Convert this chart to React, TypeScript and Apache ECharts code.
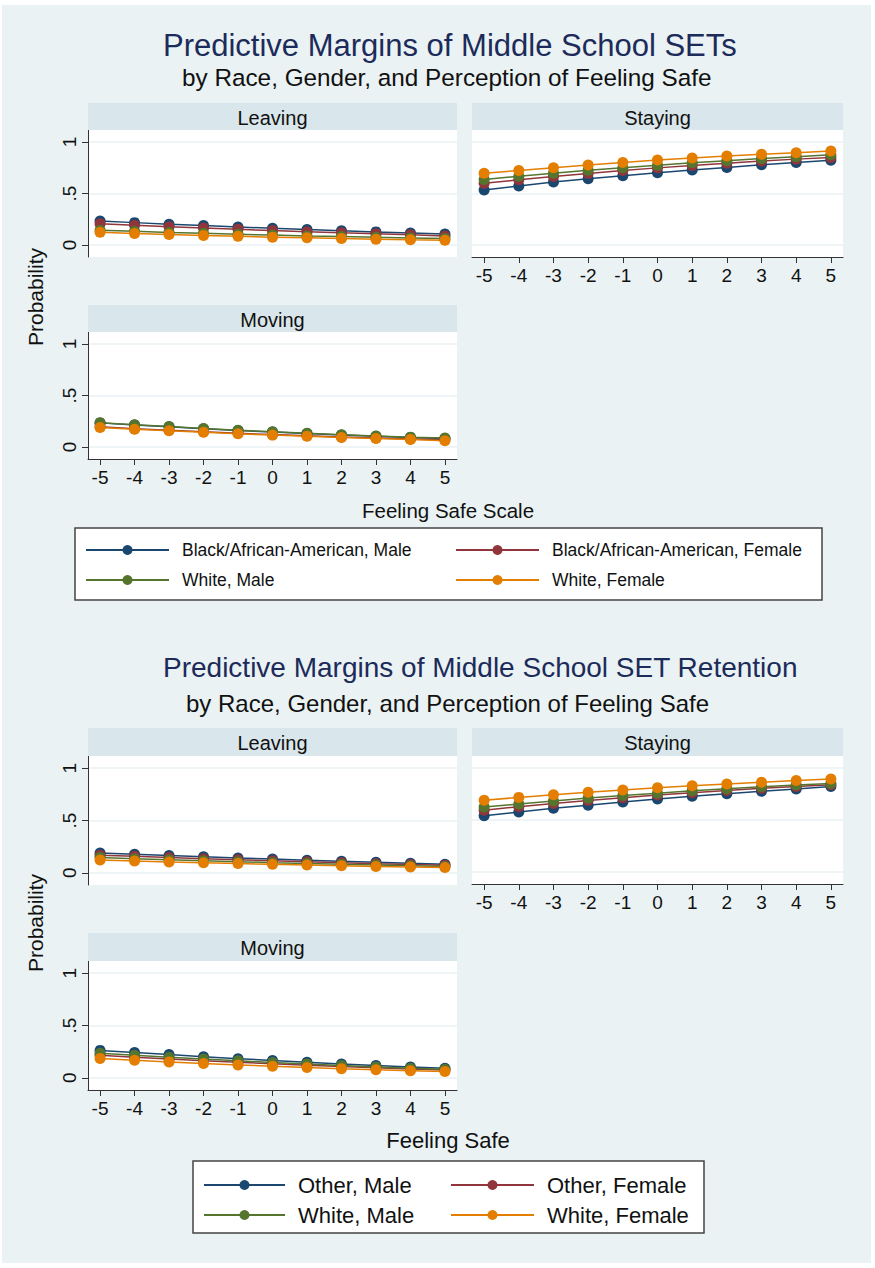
import React, { useEffect, useRef } from "react";
import * as echarts from "echarts";

// ---------- data ----------
const feelingSafe = [-5, -4, -3, -2, -1, 0, 1, 2, 3, 4, 5];
const xTickValues = [-5, -4, -3, -2, -1, 0, 1, 2, 3, 4, 5];
const yTickValues = [0, 0.5, 1];
const panelNames = ["Leaving", "Staying", "Moving"];

const groups1 = [
  "Black/African-American, Male",
  "Black/African-American, Female",
  "White, Male",
  "White, Female",
];
const groups2 = ["Other, Male", "Other, Female", "White, Male", "White, Female"];

// Chart 1: Predictive Margins of Middle School SETs
const leaving1BlackMale = [0.232, 0.217, 0.202, 0.188, 0.175, 0.162, 0.150, 0.138, 0.127, 0.117, 0.107];
const leaving1BlackFemale = [0.205, 0.191, 0.177, 0.164, 0.152, 0.140, 0.129, 0.118, 0.108, 0.098, 0.088];
const leaving1WhiteMale = [0.142, 0.132, 0.122, 0.113, 0.104, 0.096, 0.088, 0.081, 0.074, 0.068, 0.062];
const leaving1WhiteFemale = [0.123, 0.112, 0.102, 0.093, 0.084, 0.076, 0.069, 0.062, 0.056, 0.050, 0.045];

const staying1BlackMale = [0.534, 0.573, 0.612, 0.643, 0.673, 0.702, 0.728, 0.753, 0.780, 0.802, 0.822];
const staying1BlackFemale = [0.599, 0.633, 0.665, 0.695, 0.723, 0.749, 0.773, 0.795, 0.815, 0.834, 0.851];
const staying1WhiteMale = [0.637, 0.668, 0.697, 0.725, 0.751, 0.775, 0.798, 0.819, 0.839, 0.858, 0.877];
const staying1WhiteFemale = [0.696, 0.724, 0.751, 0.776, 0.801, 0.825, 0.845, 0.864, 0.881, 0.897, 0.912];

const moving1BlackMale = [0.234, 0.214, 0.196, 0.178, 0.161, 0.145, 0.131, 0.117, 0.104, 0.093, 0.082];
const moving1BlackFemale = [0.196, 0.178, 0.162, 0.147, 0.133, 0.120, 0.108, 0.097, 0.087, 0.078, 0.070];
const moving1WhiteMale = [0.236, 0.216, 0.198, 0.180, 0.163, 0.147, 0.132, 0.118, 0.106, 0.095, 0.086];
const moving1WhiteFemale = [0.190, 0.173, 0.157, 0.142, 0.128, 0.115, 0.103, 0.092, 0.082, 0.072, 0.060];

// Chart 2: Predictive Margins of Middle School SET Retention
const leaving2OtherMale = [0.190, 0.178, 0.166, 0.154, 0.142, 0.131, 0.120, 0.110, 0.100, 0.090, 0.081];
const leaving2OtherFemale = [0.168, 0.157, 0.146, 0.135, 0.124, 0.114, 0.105, 0.096, 0.087, 0.079, 0.072];
const leaving2WhiteMale = [0.145, 0.135, 0.125, 0.115, 0.106, 0.097, 0.089, 0.081, 0.074, 0.067, 0.061];
const leaving2WhiteFemale = [0.122, 0.113, 0.104, 0.096, 0.088, 0.081, 0.074, 0.067, 0.061, 0.055, 0.050];

const staying2OtherMale = [0.540, 0.578, 0.613, 0.643, 0.673, 0.703, 0.730, 0.753, 0.777, 0.800, 0.824];
const staying2OtherFemale = [0.595, 0.628, 0.659, 0.688, 0.715, 0.740, 0.763, 0.785, 0.805, 0.823, 0.840];
const staying2WhiteMale = [0.625, 0.655, 0.684, 0.711, 0.736, 0.759, 0.781, 0.801, 0.820, 0.837, 0.853];
const staying2WhiteFemale = [0.690, 0.718, 0.744, 0.768, 0.790, 0.811, 0.830, 0.848, 0.864, 0.880, 0.895];

const moving2OtherMale = [0.262, 0.242, 0.222, 0.202, 0.183, 0.165, 0.148, 0.132, 0.117, 0.103, 0.090];
const moving2OtherFemale = [0.215, 0.197, 0.180, 0.163, 0.148, 0.133, 0.120, 0.107, 0.095, 0.084, 0.074];
const moving2WhiteMale = [0.235, 0.215, 0.197, 0.179, 0.162, 0.146, 0.131, 0.117, 0.104, 0.092, 0.081];
const moving2WhiteFemale = [0.185, 0.168, 0.152, 0.137, 0.123, 0.110, 0.098, 0.087, 0.077, 0.068, 0.060];

// ---------- styling / layout ----------
const FONT = '"Liberation Sans", Arial, Helvetica, sans-serif';
const COLORS = ["#1a476f", "#90353b", "#55752f", "#e37e00"];
const STRIP = "#d9e6eb";
const GRIDLINE = "#eaf2f3";
const AXIS = "#333333";

type Panel = {
  left: number; top: number; width: number; height: number;
  showX: boolean; showY: boolean; stripTop: number;
};

const panels1: Panel[] = [
  { left: 88, top: 130, width: 369, height: 127, showX: false, showY: true, stripTop: 103 },
  { left: 472, top: 130, width: 371, height: 127, showX: true, showY: false, stripTop: 103 },
  { left: 88, top: 332, width: 369, height: 127, showX: true, showY: true, stripTop: 305 },
];
const panels2: Panel[] = [
  { left: 88, top: 756, width: 369, height: 129, showX: false, showY: true, stripTop: 728 },
  { left: 472, top: 756, width: 371, height: 128, showX: true, showY: false, stripTop: 728 },
  { left: 88, top: 961, width: 369, height: 129, showX: true, showY: true, stripTop: 933 },
];

const charts = [
  {
    groups: groups1,
    panels: panels1,
    values: [
      [leaving1BlackMale, leaving1BlackFemale, leaving1WhiteMale, leaving1WhiteFemale],
      [staying1BlackMale, staying1BlackFemale, staying1WhiteMale, staying1WhiteFemale],
      [moving1BlackMale, moving1BlackFemale, moving1WhiteMale, moving1WhiteFemale],
    ],
  },
  {
    groups: groups2,
    panels: panels2,
    values: [
      [leaving2OtherMale, leaving2OtherFemale, leaving2WhiteMale, leaving2WhiteFemale],
      [staying2OtherMale, staying2OtherFemale, staying2WhiteMale, staying2WhiteFemale],
      [moving2OtherMale, moving2OtherFemale, moving2WhiteMale, moving2WhiteFemale],
    ],
  },
];

function buildOption() {
  const grid: any[] = [];
  const xAxis: any[] = [];
  const yAxis: any[] = [];
  const series: any[] = [];
  const graphic: any[] = [];

  charts.forEach((chart) => {
    chart.panels.forEach((p, pi) => {
      const idx = grid.length;
      grid.push({
        left: p.left, top: p.top, width: p.width, height: p.height,
        show: true, backgroundColor: "#ffffff", borderWidth: 0,
        containLabel: false, outerBoundsMode: "none",
      });
      xAxis.push({
        type: "value", gridIndex: idx, min: -5.35, max: 5.35,
        axisLine: { show: p.showX, onZero: false, lineStyle: { color: AXIS, width: 1 } },
        axisTick: { show: p.showX, length: 6, customValues: xTickValues, lineStyle: { color: AXIS, width: 1 } },
        axisLabel: {
          show: p.showX, customValues: xTickValues, fontSize: 19, fontFamily: FONT,
          color: "#111", margin: 9,
        },
        splitLine: { show: false },
      });
      yAxis.push({
        type: "value", gridIndex: idx, min: -0.117, max: 1.117,
        axisLine: { show: p.showY, onZero: false, lineStyle: { color: AXIS, width: 1 } },
        axisTick: { show: p.showY, length: 6, customValues: yTickValues, lineStyle: { color: AXIS, width: 1 } },
        axisLabel: {
          show: p.showY, customValues: yTickValues, rotate: 90, fontSize: 19, fontFamily: FONT,
          color: "#111", margin: 9,
          formatter: (v: number) => (v === 0 ? "0" : v === 1 ? "1" : ".5"),
        },
        splitLine: { show: true, lineStyle: { color: GRIDLINE, width: 1.5 } },
      });
      // strip
      graphic.push({
        type: "rect", z: 1,
        shape: { x: p.left, y: p.stripTop, width: p.width, height: p.top - p.stripTop },
        style: { fill: STRIP },
      });
      graphic.push({
        type: "text", z: 2,
        x: p.left + p.width / 2, y: (p.stripTop + p.top) / 2 + 1,
        style: {
          text: panelNames[pi], fontSize: 20, fontFamily: FONT, fill: "#111",
          align: "center", verticalAlign: "middle", textAlign: "center", textVerticalAlign: "middle",
        },
      });
      chart.groups.forEach((g, gi) => {
        const vals = chart.values[pi][gi];
        series.push({
          type: "line", name: g, xAxisIndex: idx, yAxisIndex: idx,
          data: feelingSafe.map((x, i) => [x, vals[i]]),
          symbol: "circle", symbolSize: 11, showSymbol: true, showAllSymbol: true,
          lineStyle: { color: COLORS[gi], width: 1.5 },
          itemStyle: { color: COLORS[gi] },
          emphasis: { disabled: true },
          silent: true,
        });
      });
    });
  });

  // Legend boxes
  graphic.push({
    type: "rect", z: 1,
    shape: { x: 75, y: 528, width: 747, height: 72 },
    style: { fill: "#ffffff", stroke: "#444", lineWidth: 1.5 },
  });
  graphic.push({
    type: "rect", z: 1,
    shape: { x: 193, y: 1161, width: 511, height: 72 },
    style: { fill: "#ffffff", stroke: "#444", lineWidth: 1.5 },
  });

  // Axis titles
  const axisTitle = (text: string, x: number, y: number, size: number, rot = 0) => ({
    type: "text", z: 2, x, y, rotation: rot,
    style: {
      text, fontSize: size, fontFamily: FONT, fill: "#111",
      align: "center", verticalAlign: "middle", textAlign: "center", textVerticalAlign: "middle",
    },
  });
  graphic.push(axisTitle("Probability", 35, 297, 21, Math.PI / 2));
  graphic.push(axisTitle("Feeling Safe Scale", 448, 510, 20.5));
  graphic.push(axisTitle("Probability", 35, 923, 21, Math.PI / 2));
  graphic.push(axisTitle("Feeling Safe", 448, 1140, 22));

  const legendBase = {
    orient: "vertical", padding: 0, selectedMode: false, itemHeight: 12.5,
  };
  const legend = [
    {
      ...legendBase, data: [groups1[0], groups1[2]], left: 85, top: 540, itemWidth: 83, itemGap: 10,
      textStyle: { fontSize: 17.5, lineHeight: 20, fontFamily: FONT, color: "#111", padding: [0, 0, 0, 8] },
    },
    {
      ...legendBase, data: [groups1[1], groups1[3]], left: 455, top: 540, itemWidth: 83, itemGap: 10,
      textStyle: { fontSize: 17.5, lineHeight: 20, fontFamily: FONT, color: "#111", padding: [0, 0, 0, 8] },
    },
    {
      ...legendBase, data: [groups2[0], groups2[2]], left: 203, top: 1173, itemWidth: 81, itemGap: 6,
      textStyle: { fontSize: 22, lineHeight: 24, fontFamily: FONT, color: "#111", padding: [0, 0, 0, 8] },
    },
    {
      ...legendBase, data: [groups2[1], groups2[3]], left: 450, top: 1173, itemWidth: 83, itemGap: 6,
      textStyle: { fontSize: 22, lineHeight: 24, fontFamily: FONT, color: "#111", padding: [0, 0, 0, 8] },
    },
  ];

  const title = [
    {
      text: "Predictive Margins of Middle School SETs", left: 163, top: 27, padding: 0,
      textStyle: { fontSize: 31, lineHeight: 36, fontWeight: "normal", color: "#1c2b5a", fontFamily: FONT },
    },
    {
      text: "by Race, Gender, and Perception of Feeling Safe", left: 182, top: 63, padding: 0,
      textStyle: { fontSize: 24.3, lineHeight: 28, fontWeight: "normal", color: "#111", fontFamily: FONT },
    },
    {
      text: "Predictive Margins of Middle School SET Retention", left: 163, top: 650, padding: 0,
      textStyle: { fontSize: 28, lineHeight: 34, fontWeight: "normal", color: "#1c2b5a", fontFamily: FONT },
    },
    {
      text: "by Race, Gender, and Perception of Feeling Safe", left: 186, top: 689, padding: 0,
      textStyle: { fontSize: 24, lineHeight: 28, fontWeight: "normal", color: "#111", fontFamily: FONT },
    },
  ];

  return {
    animation: false,
    backgroundColor: "transparent",
    title,
    legend,
    grid,
    xAxis,
    yAxis,
    series,
    graphic,
  };
}

export default function App() {
  const ref = useRef<HTMLDivElement>(null);
  useEffect(() => {
    document.body.style.margin = "0";
    if (!ref.current) return;
    const chart = echarts.init(ref.current, undefined, { renderer: "svg" });
    chart.setOption(buildOption() as any);
    return () => chart.dispose();
  }, []);
  return (
    <div style={{ position: "relative", width: 875, height: 1268, background: "#ffffff" }}>
      <div
        style={{
          position: "absolute", left: 2, top: 5, width: 869, height: 1258,
          background: "#eaf2f3",
        }}
      />
      <div ref={ref} style={{ position: "absolute", left: 0, top: 0, width: 875, height: 1268 }} />
    </div>
  );
}
